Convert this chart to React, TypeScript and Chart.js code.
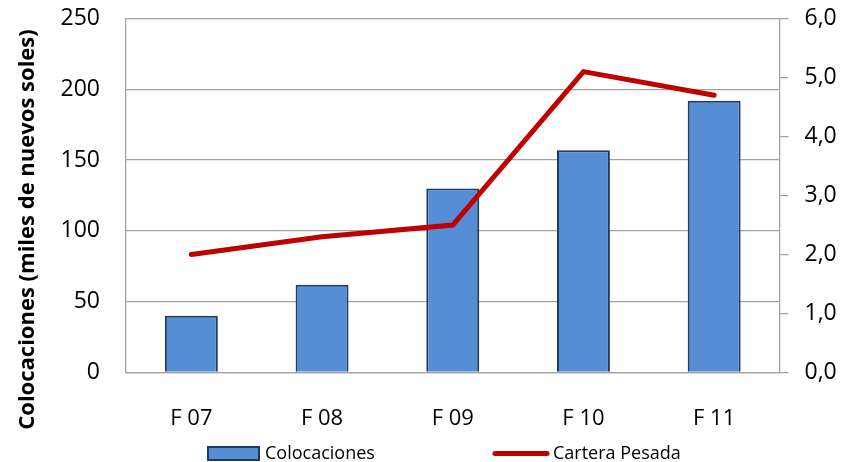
import React, { useEffect, useRef } from "react";
import { Chart, registerables } from "chart.js";

Chart.register(...registerables);

const categories = ["F 07", "F 08", "F 09", "F 10", "F 11"];
const colocaciones = [40, 62, 130, 157, 192];
const carteraPesada = [2.0, 2.3, 2.5, 5.1, 4.7];
const rightTickLabels = ["0,0", "1,0", "2,0", "3,0", "4,0", "5,0", "6,0"];
const yTitle = "Colocaciones (miles de nuevos soles)";
const seriesNames = ["Colocaciones", "Cartera Pesada"];

const FONT = "'Open Sans', 'Noto Sans', sans-serif";
const GRID = "#a3a3a3";

const yTitlePlugin = {
  id: "yTitlePlugin",
  afterDraw(chart: any) {
    const ctx = chart.ctx;
    ctx.save();
    ctx.font = `bold 22px ${FONT}`;
    ctx.fillStyle = "#000";
    ctx.textAlign = "center";
    ctx.textBaseline = "alphabetic";
    ctx.translate(34, 229.5);
    ctx.rotate(-Math.PI / 2);
    ctx.fillText(yTitle, 0, 0);
    ctx.restore();
  },
};

const legendPlugin = {
  id: "customLegend",
  afterDraw(chart: any) {
    const ctx = chart.ctx;
    const ds = chart.data.datasets;
    const y = 453.5;
    ctx.save();
    ctx.font = `18px ${FONT}`;
    ctx.textBaseline = "middle";
    ctx.textAlign = "left";
    ctx.fillStyle = ds[0].backgroundColor;
    ctx.strokeStyle = ds[0].borderColor;
    ctx.lineWidth = 2;
    ctx.fillRect(208, y - 6.5, 51, 13);
    ctx.strokeRect(208, y - 6.5, 51, 13);
    ctx.fillStyle = "#000";
    ctx.fillText(ds[0].label, 265, y);
    ctx.strokeStyle = ds[1].borderColor;
    ctx.lineWidth = 5;
    ctx.lineCap = "round";
    ctx.beginPath();
    ctx.moveTo(495, y);
    ctx.lineTo(547, y);
    ctx.stroke();
    ctx.fillStyle = "#000";
    ctx.fillText(ds[1].label, 553, y);
    ctx.restore();
  },
};

export default function App() {
  const ref = useRef<HTMLCanvasElement | null>(null);

  useEffect(() => {
    document.body.style.margin = "0";
    if (!ref.current) return;
    Chart.defaults.font.family = FONT;
    Chart.defaults.color = "#000";
    const chart = new Chart(ref.current, {
      type: "bar",
      data: {
        labels: categories,
        datasets: [
          {
            type: "bar",
            label: seriesNames[0],
            data: colocaciones,
            backgroundColor: "#558ed5",
            borderColor: "#1f3a60",
            borderWidth: 2,
            categoryPercentage: 1,
            barPercentage: 0.405,
            yAxisID: "y",
            order: 1,
          },
          {
            type: "line",
            label: seriesNames[1],
            data: carteraPesada,
            borderColor: "#c00000",
            backgroundColor: "#c00000",
            borderWidth: 5,
            borderCapStyle: "round",
            borderJoinStyle: "miter",
            pointRadius: 0,
            tension: 0,
            yAxisID: "y1",
            order: 0,
          },
        ] as any,
      },
      options: {
        animation: false,
        responsive: false,
        devicePixelRatio: 1,
        layout: { padding: { top: 18.5, left: 0, right: 0, bottom: 0 } },
        plugins: {
          legend: { display: false },
          tooltip: { enabled: false },
          title: { display: false },
        },
        scales: {
          x: {
            grid: { display: false, drawTicks: false },
            border: { display: true, color: GRID, width: 1.3 },
            ticks: { font: { size: 22 }, padding: 33, color: "#000" },
            afterFit(scale: any) {
              scale.height = 89.5;
              scale.paddingLeft = 0;
              scale.paddingRight = 0;
            },
          },
          y: {
            position: "left",
            min: 0,
            max: 250,
            grid: { color: GRID, lineWidth: 1.3, drawTicks: false },
            border: { display: true, color: GRID, width: 1.3 },
            ticks: { stepSize: 50, font: { size: 23 }, padding: 26, color: "#000" },
            afterFit(scale: any) {
              scale.width = 126;
              scale.paddingTop = 0;
              scale.paddingBottom = 0;
            },
          },
          y1: {
            position: "right",
            min: 0,
            max: 6,
            grid: {
              drawOnChartArea: false,
              drawTicks: true,
              tickLength: 9,
              color: GRID,
              lineWidth: 1.3,
            },
            border: { display: true, color: GRID, width: 1.3 },
            ticks: {
              stepSize: 1,
              font: { size: 23 },
              padding: 16,
              color: "#000",
              callback: (_v: any, i: number) => rightTickLabels[i],
            },
            afterFit(scale: any) {
              scale.width = 61.5;
              scale.paddingTop = 0;
              scale.paddingBottom = 0;
            },
          },
        },
      } as any,
      plugins: [yTitlePlugin, legendPlugin],
    });
    return () => chart.destroy();
  }, []);

  return (
    <div style={{ width: 841, height: 462, background: "#fff" }}>
      <canvas ref={ref} width={841} height={462} style={{ display: "block" }} />
    </div>
  );
}
